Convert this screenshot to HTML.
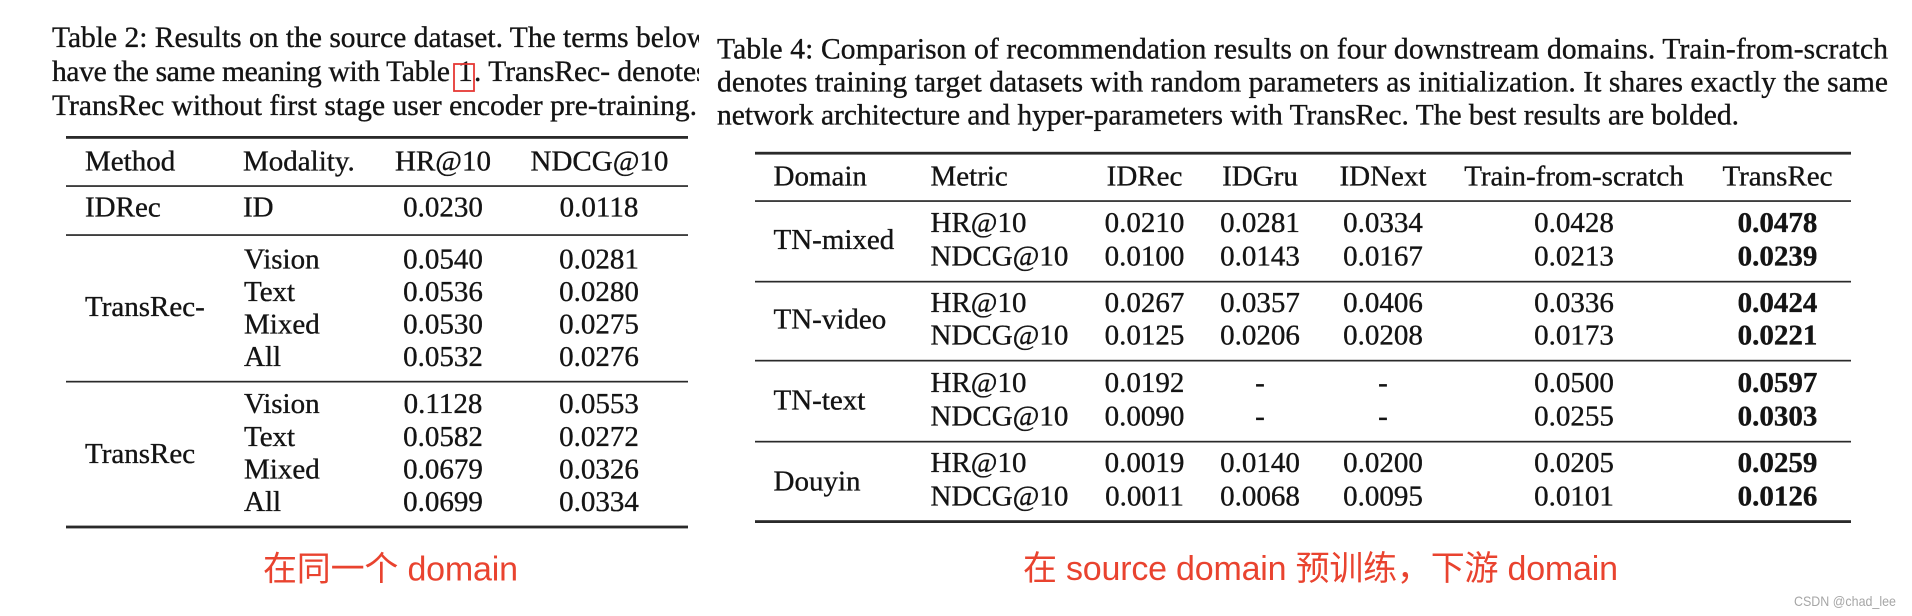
<!DOCTYPE html>
<html>
<head>
<meta charset="utf-8">
<style>
  html, body { margin: 0; padding: 0; background: #ffffff; }
  body { width: 1912px; height: 616px; overflow: hidden; }
  svg { display: block; }
  .serif { font-family: "Liberation Serif", "Times New Roman", serif; fill: #141414; stroke: #141414; stroke-width: 0.35px; }
  .cap { font-size: 29.5px; }
  .tb { font-size: 29px; }
  .b { font-weight: bold; }
  .red { font-family: "Liberation Sans", "Noto Sans CJK SC", sans-serif; fill: #e9432f; font-size: 34px; }
  .wm { font-family: "Liberation Sans", sans-serif; fill: #a6a6a6; font-size: 14px; }
</style>
</head>
<body>
<svg width="1912" height="616" viewBox="0 0 1912 616" xmlns="http://www.w3.org/2000/svg">
  <defs>
    <clipPath id="lc"><rect x="0" y="0" width="699" height="130"/></clipPath>
  </defs>
  <rect x="0" y="0" width="1912" height="616" fill="#ffffff"/>

  <!-- ===== Left caption (Table 2) ===== -->
  <g clip-path="url(#lc)" class="serif cap">
    <text x="52" y="47">Table 2: Results on the source dataset. The terms below</text>
    <text x="52" y="81" textLength="398" lengthAdjust="spacing">have the same meaning with Table</text>
    <text x="458" y="81">1</text>
    <text x="474" y="81">. TransRec- denotes</text>
    <text x="52" y="115" textLength="645" lengthAdjust="spacing">TransRec without first stage user encoder pre-training.</text>
  </g>
  <rect x="454" y="64" width="20" height="27" fill="none" stroke="#e53935" stroke-width="1.8"/>

  <!-- ===== Left table ===== -->
  <g fill="#2a2a2a">
    <rect x="66" y="136" width="622" height="2.8"/>
    <rect x="66" y="185.2" width="622" height="1.7"/>
    <rect x="66" y="234.2" width="622" height="1.7"/>
    <rect x="66" y="380.8" width="622" height="1.7"/>
    <rect x="66" y="525.6" width="622" height="2.8"/>
  </g>
  <g class="serif tb">
    <text x="85" y="170.5">Method</text>
    <text x="243" y="170.5">Modality.</text>
    <text x="443" y="170.5" text-anchor="middle">HR@10</text>
    <text x="599.5" y="170.5" text-anchor="middle">NDCG@10</text>

    <text x="85" y="216.7">IDRec</text>
    <text x="243" y="216.7">ID</text>
    <text x="443" y="216.7" text-anchor="middle">0.0230</text>
    <text x="599" y="216.7" text-anchor="middle">0.0118</text>

    <text x="85" y="316">TransRec-</text>
    <text x="244" y="268.3">Vision</text>
    <text x="244" y="301">Text</text>
    <text x="244" y="333.5">Mixed</text>
    <text x="244" y="366">All</text>
    <text x="443" y="268.3" text-anchor="middle">0.0540</text>
    <text x="443" y="301" text-anchor="middle">0.0536</text>
    <text x="443" y="333.5" text-anchor="middle">0.0530</text>
    <text x="443" y="366" text-anchor="middle">0.0532</text>
    <text x="599" y="268.3" text-anchor="middle">0.0281</text>
    <text x="599" y="301" text-anchor="middle">0.0280</text>
    <text x="599" y="333.5" text-anchor="middle">0.0275</text>
    <text x="599" y="366" text-anchor="middle">0.0276</text>

    <text x="85" y="463">TransRec</text>
    <text x="244" y="413">Vision</text>
    <text x="244" y="446">Text</text>
    <text x="244" y="478.5">Mixed</text>
    <text x="244" y="511">All</text>
    <text x="443" y="413" text-anchor="middle">0.1128</text>
    <text x="443" y="446" text-anchor="middle">0.0582</text>
    <text x="443" y="478.5" text-anchor="middle">0.0679</text>
    <text x="443" y="511" text-anchor="middle">0.0699</text>
    <text x="599" y="413" text-anchor="middle">0.0553</text>
    <text x="599" y="446" text-anchor="middle">0.0272</text>
    <text x="599" y="478.5" text-anchor="middle">0.0326</text>
    <text x="599" y="511" text-anchor="middle">0.0334</text>
  </g>

  <text class="red" x="263" y="580.5" textLength="255" lengthAdjust="spacing">在同一个 domain</text>

  <!-- ===== Right caption (Table 4) ===== -->
  <g class="serif cap">
    <text x="717" y="58.5" textLength="1171" lengthAdjust="spacing">Table 4: Comparison of recommendation results on four downstream domains. Train-from-scratch</text>
    <text x="717" y="91.5" textLength="1171" lengthAdjust="spacing">denotes training target datasets with random parameters as initialization. It shares exactly the same</text>
    <text x="717" y="124.5" textLength="1022" lengthAdjust="spacing">network architecture and hyper-parameters with TransRec. The best results are bolded.</text>
  </g>

  <!-- ===== Right table ===== -->
  <g fill="#2a2a2a">
    <rect x="755" y="151.8" width="1096" height="2.8"/>
    <rect x="755" y="200.2" width="1096" height="1.7"/>
    <rect x="755" y="280.8" width="1096" height="1.7"/>
    <rect x="755" y="359.8" width="1096" height="1.7"/>
    <rect x="755" y="440.8" width="1096" height="1.7"/>
    <rect x="755" y="520.2" width="1096" height="2.8"/>
  </g>
  <g class="serif tb">
    <text x="773.5" y="185.5">Domain</text>
    <text x="930.5" y="185.5">Metric</text>
    <text x="1144.5" y="185.5" text-anchor="middle">IDRec</text>
    <text x="1260" y="185.5" text-anchor="middle">IDGru</text>
    <text x="1383" y="185.5" text-anchor="middle">IDNext</text>
    <text x="1574" y="185.5" text-anchor="middle">Train-from-scratch</text>
    <text x="1777.5" y="185.5" text-anchor="middle">TransRec</text>

    <!-- TN-mixed -->
    <text x="773.5" y="248.8">TN-mixed</text>
    <text x="930.5" y="232.2">HR@10</text>
    <text x="930.5" y="265.5">NDCG@10</text>
    <text x="1144.5" y="232.2" text-anchor="middle">0.0210</text>
    <text x="1144.5" y="265.5" text-anchor="middle">0.0100</text>
    <text x="1260" y="232.2" text-anchor="middle">0.0281</text>
    <text x="1260" y="265.5" text-anchor="middle">0.0143</text>
    <text x="1383" y="232.2" text-anchor="middle">0.0334</text>
    <text x="1383" y="265.5" text-anchor="middle">0.0167</text>
    <text x="1574" y="232.2" text-anchor="middle">0.0428</text>
    <text x="1574" y="265.5" text-anchor="middle">0.0213</text>
    <text class="b" x="1777.5" y="232.2" text-anchor="middle">0.0478</text>
    <text class="b" x="1777.5" y="265.5" text-anchor="middle">0.0239</text>

    <!-- TN-video -->
    <text x="773.5" y="328.5">TN-video</text>
    <text x="930.5" y="312.2">HR@10</text>
    <text x="930.5" y="344.5">NDCG@10</text>
    <text x="1144.5" y="312.2" text-anchor="middle">0.0267</text>
    <text x="1144.5" y="344.5" text-anchor="middle">0.0125</text>
    <text x="1260" y="312.2" text-anchor="middle">0.0357</text>
    <text x="1260" y="344.5" text-anchor="middle">0.0206</text>
    <text x="1383" y="312.2" text-anchor="middle">0.0406</text>
    <text x="1383" y="344.5" text-anchor="middle">0.0208</text>
    <text x="1574" y="312.2" text-anchor="middle">0.0336</text>
    <text x="1574" y="344.5" text-anchor="middle">0.0173</text>
    <text class="b" x="1777.5" y="312.2" text-anchor="middle">0.0424</text>
    <text class="b" x="1777.5" y="344.5" text-anchor="middle">0.0221</text>

    <!-- TN-text -->
    <text x="773.5" y="409.5">TN-text</text>
    <text x="930.5" y="392.2">HR@10</text>
    <text x="930.5" y="425.5">NDCG@10</text>
    <text x="1144.5" y="392.2" text-anchor="middle">0.0192</text>
    <text x="1144.5" y="425.5" text-anchor="middle">0.0090</text>
    <text x="1260" y="392.2" text-anchor="middle">-</text>
    <text x="1260" y="425.5" text-anchor="middle">-</text>
    <text x="1383" y="392.2" text-anchor="middle">-</text>
    <text x="1383" y="425.5" text-anchor="middle">-</text>
    <text x="1574" y="392.2" text-anchor="middle">0.0500</text>
    <text x="1574" y="425.5" text-anchor="middle">0.0255</text>
    <text class="b" x="1777.5" y="392.2" text-anchor="middle">0.0597</text>
    <text class="b" x="1777.5" y="425.5" text-anchor="middle">0.0303</text>

    <!-- Douyin -->
    <text x="773.5" y="490.5">Douyin</text>
    <text x="930.5" y="472.2">HR@10</text>
    <text x="930.5" y="505.5">NDCG@10</text>
    <text x="1144.5" y="472.2" text-anchor="middle">0.0019</text>
    <text x="1144.5" y="505.5" text-anchor="middle">0.0011</text>
    <text x="1260" y="472.2" text-anchor="middle">0.0140</text>
    <text x="1260" y="505.5" text-anchor="middle">0.0068</text>
    <text x="1383" y="472.2" text-anchor="middle">0.0200</text>
    <text x="1383" y="505.5" text-anchor="middle">0.0095</text>
    <text x="1574" y="472.2" text-anchor="middle">0.0205</text>
    <text x="1574" y="505.5" text-anchor="middle">0.0101</text>
    <text class="b" x="1777.5" y="472.2" text-anchor="middle">0.0259</text>
    <text class="b" x="1777.5" y="505.5" text-anchor="middle">0.0126</text>
  </g>

  <text class="red" x="1023" y="580" textLength="595" lengthAdjust="spacing">在 source domain 预训练，下游 domain</text>

  <text class="wm" x="1794" y="606" textLength="102" lengthAdjust="spacingAndGlyphs">CSDN @chad_lee</text>
</svg>
</body>
</html>
